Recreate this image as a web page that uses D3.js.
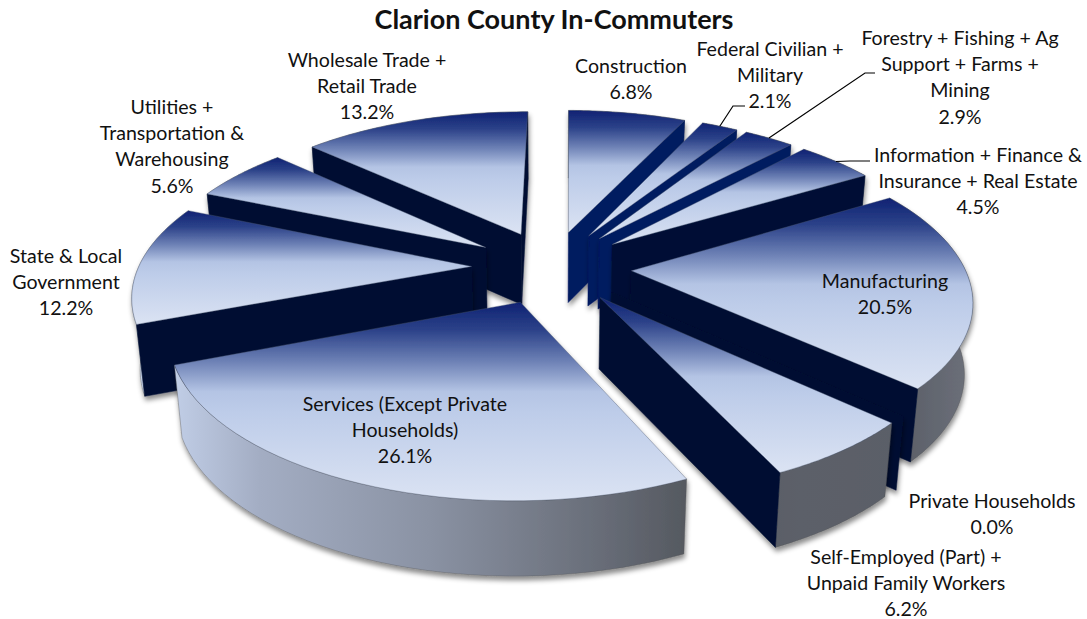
<!DOCTYPE html>
<html>
<head>
<meta charset="utf-8">
<script src="https://cdn.jsdelivr.net/npm/d3@7"></script>
<style>
  html, body { margin: 0; padding: 0; background: #fff; }
  svg { display: block; }
  text { font-family: Lato, "Open Sans", sans-serif; fill: #111; }
</style>
</head>
<body>
<div id="chart"></div>
<script>
// data
const sectors = ["Construction", "Federal Civilian + Military", "Forestry + Fishing + Ag Support + Farms + Mining",
  "Information + Finance & Insurance + Real Estate", "Manufacturing", "Private Households",
  "Self-Employed (Part) + Unpaid Family Workers", "Services (Except Private Households)",
  "State & Local Government", "Utilities + Transportation & Warehousing", "Wholesale Trade + Retail Trade"];
const shares = [6.8, 2.1, 2.9, 4.5, 20.5, 0.0, 6.2, 26.1, 12.2, 5.6, 13.2];
const labelLines = [
  ["Construction"], ["Federal Civilian +", "Military"], ["Forestry + Fishing + Ag", "Support + Farms +", "Mining"],
  ["Information + Finance &", "Insurance + Real Estate"], ["Manufacturing"], ["Private Households"],
  ["Self-Employed (Part) +", "Unpaid Family Workers"], ["Services (Except Private", "Households)"],
  ["State & Local", "Government"], ["Utilities +", "Transportation &", "Warehousing"], ["Wholesale Trade +", "Retail Trade"]
];

// layout
const width = 1087;
const height = 619;
const explode = 0.24;    // pie explosion, in radius units
const firstAngle = 0.5 * Math.PI / 180;
const cx = 551.5, cy = 267;
const scaleX = 333, scaleY = 152.7, persp = 0.165;
const labelPos = [[631, 66], [770, 49], [960, 38], [978, 155], [885, 281], [992, 501], [906, 557], [405, 404], [66, 256], [172, 107], [367, 60]];
const labelStep = 26.3;
// elbow and end of the leader lines, by sector index
const leaders = { 1: [[733, 106], [745, 106]], 2: [[865, 73], [875, 73]], 3: [[850, 161], [870, 161]] };

const svg = d3.select("#chart").append("svg")
  .attr("width", width)
  .attr("height", height);

const defs = svg.append("defs");

const shadow = defs.append("filter").attr("id", "shadow")
  .attr("x", "-10%").attr("y", "-10%").attr("width", "120%").attr("height", "125%");
shadow.append("feDropShadow")
  .attr("dx", 1).attr("dy", 4)
  .attr("stdDeviation", 2.5)
  .attr("flood-color", "#000")
  .attr("flood-opacity", 0.45);

const topGrad = defs.append("linearGradient").attr("id", "topGrad")
  .attr("x1", 0).attr("y1", 0).attr("x2", 0).attr("y2", 1);
[[0, "#0f2273"], [0.14, "#2c4289"], [0.3, "#6e82b6"], [0.45, "#b4c4e4"], [0.55, "#bdcce9"], [1, "#dbe3f3"]].forEach(s =>
  topGrad.append("stop").attr("offset", s[0]).attr("stop-color", s[1]));

const rimGrad = defs.append("linearGradient").attr("id", "rimGrad")
  .attr("gradientUnits", "userSpaceOnUse")
  .attr("x1", 170).attr("y1", 0).attr("x2", 990).attr("y2", 0);
[[170, "#c2cfe8"], [260, "#a3adc3"], [430, "#8a92a3"], [600, "#686d78"], [690, "#54585f"], [800, "#5c6069"], [900, "#5a5e67"], [985, "#70747e"]].forEach(s =>
  rimGrad.append("stop").attr("offset", (s[0] - 170) / 820).attr("stop-color", s[1]));

// wall gets darker going round from the back
const wallColor = d3.scaleLinear()
  .domain([0, 45, 60, 360])
  .range(["#021a60", "#021a60", "#000f33", "#000f33"])
  .clamp(true);

const arcs = d3.pie().sort(null).value(d => d)
  .startAngle(firstAngle)
  .endAngle(firstAngle + 2 * Math.PI)(shares);

// world point on the pie plane (unit radius) to the screen
function project(x, y) {
  const w = 1 + persp * y;
  return [cx + scaleX * x / w, cy - scaleY * y / w];
}

// same point at the bottom of the pie
function drop(p) {
  return [cx + (p[0] - cx) * 0.98, p[1] + 70 + 0.02 * (p[1] - 232)];
}

function slicePoints(a) {
  const mid = (a.startAngle + a.endAngle) / 2;
  const ox = explode * Math.sin(mid);
  const oy = explode * Math.cos(mid);
  const apex = project(ox, oy);
  const rim = d3.range(0, 41).map(k => {
    const t = a.startAngle + (a.endAngle - a.startAngle) * k / 40;
    return project(ox + Math.sin(t), oy + Math.cos(t));
  });
  return { mid, apex, rim, ox, oy };
}

const line = d3.line();
const closed = pts => line(pts) + "Z";

const order = d3.range(sectors.length)
  .sort((a, b) => Math.cos((arcs[b].startAngle + arcs[b].endAngle) / 2) - Math.cos((arcs[a].startAngle + arcs[a].endAngle) / 2));

const pieG = svg.append("g");

order.forEach(i => {
  const a = arcs[i];
  const s = slicePoints(a);
  const g = pieG.append("g").attr("class", "slice").attr("filter", "url(#shadow)");

  // outer wall
  if (a.endAngle > a.startAngle) {
    g.append("path")
      .attr("d", closed(s.rim.concat(s.rim.map(drop).reverse())))
      .attr("fill", "url(#rimGrad)")
      .attr("stroke", "#555")
      .attr("stroke-width", 0.4);
  }

  // cut walls, only those facing the viewer
  const wall = (p, deg) => g.append("path")
    .attr("d", closed([s.apex, p, drop(p), drop(s.apex)]))
    .attr("fill", wallColor(deg))
    .attr("stroke", wallColor(deg))
    .attr("stroke-width", 0.5);
  if (Math.sin(a.startAngle) < 0) wall(s.rim[0], a.startAngle * 180 / Math.PI);
  if (Math.sin(a.endAngle) > 0) wall(s.rim[40], a.endAngle * 180 / Math.PI);

  // top face
  if (a.endAngle > a.startAngle) {
    g.append("path")
      .attr("d", closed([s.apex].concat(s.rim)))
      .attr("fill", "url(#topGrad)")
      .attr("stroke", "#4a5570")
      .attr("stroke-width", 0.4);
  }
});

// leader lines
d3.range(sectors.length).filter(i => leaders[i]).forEach(i => {
  const s = slicePoints(arcs[i]);
  const start = project(s.ox + Math.sin(s.mid), s.oy + Math.cos(s.mid));
  svg.append("path")
    .attr("d", line([start].concat(leaders[i])))
    .attr("fill", "none")
    .attr("stroke", "#000")
    .attr("stroke-width", 1.2);
});

// labels
const labelG = svg.append("g");
sectors.forEach((name, i) => {
  const lines = labelLines[i].concat([shares[i].toFixed(1) + "%"]);
  lines.forEach((t, j) => {
    labelG.append("text")
      .attr("x", labelPos[i][0])
      .attr("y", labelPos[i][1] + j * labelStep)
      .attr("dy", "0.35em")
      .attr("text-anchor", "middle")
      .attr("font-size", 19.6)
      .text(t);
  });
});

svg.append("text")
  .attr("x", 554)
  .attr("y", 20)
  .attr("dy", "0.35em")
  .attr("text-anchor", "middle")
  .attr("font-size", 27)
  .attr("font-weight", 700)
  .text("Clarion County In-Commuters");
</script>
</body>
</html>
